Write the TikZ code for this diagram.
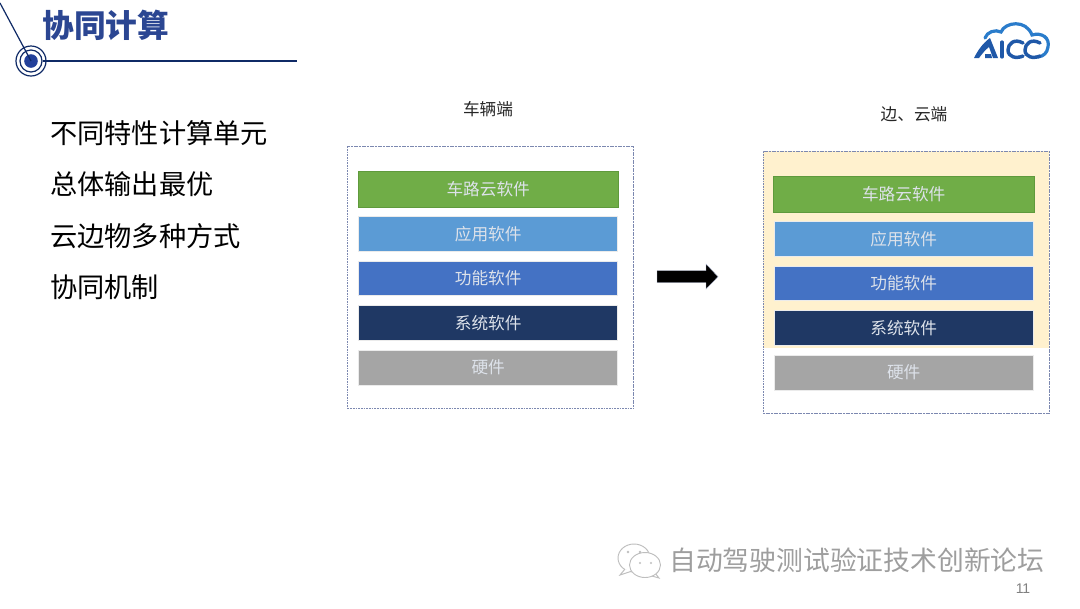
\documentclass[tikz,border=0pt]{standalone}
\usepackage{fontspec}
\setmainfont{Noto Sans CJK SC}[BoldFont={Noto Sans CJK SC Black}]
\setsansfont{Liberation Sans}
\definecolor{titleblue}{HTML}{2B4692}
\definecolor{navyline}{HTML}{0F2A66}
\definecolor{dotblue}{HTML}{23409A}
\definecolor{framecol}{HTML}{7C88B0}
\definecolor{cream}{HTML}{FFF1CE}
\definecolor{rowgreen}{HTML}{70AD47}
\definecolor{rowgreenedge}{HTML}{5F9A3C}
\definecolor{rowsky}{HTML}{5B9BD5}
\definecolor{rowblue}{HTML}{4472C4}
\definecolor{rownavy}{HTML}{1F3864}
\definecolor{rowgray}{HTML}{A5A5A5}
\definecolor{rowtext}{HTML}{DDE2EA}
\definecolor{logoa}{HTML}{2A7CCB}
\definecolor{logob}{HTML}{1F58A8}
\definecolor{markgray}{HTML}{BEBEBE}
\tikzset{
  x=0.75pt,y=-0.75pt,
  rowbox/.style={minimum width=194.4pt,minimum height=26pt,inner sep=0pt,
    text=rowtext,font=\fontsize{12.5pt}{14pt}\selectfont,draw=white!92!black,line width=0.5pt},
  greenrow/.style={rowbox,minimum width=195.5pt,minimum height=27pt,fill=rowgreen,draw=rowgreenedge},
  frame/.style={draw=framecol,line width=0.75pt,dash pattern=on 1.4pt off 0.6pt},
  caption/.style={font=\fontsize{12.5pt}{14pt}\selectfont,text=black!85},
  point/.style={font=\fontsize{20.4pt}{24pt}\selectfont,text=black,anchor=west,inner sep=0pt},
  bubble/.style={draw=markgray,line width=0.7pt,fill=white},
}
\begin{document}
\begin{tikzpicture}
\useasboundingbox (0,0) rectangle (1080,608);
\fill[white] (0,0) rectangle (1080,608);

% Title and its ornament
\node[font=\fontsize{23.8pt}{28pt}\selectfont\bfseries,text=titleblue,anchor=west,inner sep=0pt] (title) at (42,25) {协同计算};
\coordinate (hub) at (31,61);
\coordinate (ruleend) at (297,61);
\coordinate (stem) at (0,3);
\draw[navyline,line width=1pt] (hub) -- (ruleend);
\fill[white] (hub) circle (12);
\draw[navyline,line width=0.9pt] (hub) circle (15);
\draw[navyline,line width=0.9pt] (hub) circle (11);
\fill[dotblue] (hub) circle (6.8);
\draw[navyline,line width=0.9pt] (stem) -- (hub);

% Cloud emblem
\begin{scope}[line cap=round]
\draw[logoa,line width=2.4pt] (985,38) .. controls (987,32) and (995,29) .. (1001,32)
  .. controls (1005,22) and (1026,19) .. (1032,35)
  .. controls (1042,32) and (1050,38) .. (1048,47)
  .. controls (1047,53) and (1044,56) .. (1038,57);
\fill[logob] (974,58) .. controls (978,50) and (983,43) .. (990,38) -- (998,58) -- (993,58)
  -- (989,47) .. controls (985,50) and (982,54) .. (979,58) -- cycle;
\fill[logob] (985,54) -- (991,54) -- (992,58) -- (985,58) -- cycle;
\draw[logob,line width=2.4pt] (1002,42) -- (1002,57);
\draw[logob,line width=2.6pt] (1023,43) .. controls (1014,38) and (1008,44) .. (1008,50) .. controls (1008,57) and (1016,59) .. (1023,56);
\draw[logob,line width=2.6pt] (1040,43) .. controls (1031,38) and (1025,44) .. (1025,50) .. controls (1025,57) and (1033,59) .. (1040,56);
\end{scope}

% Key points
\node[point] (p1) at (50,133) {不同特性计算单元};
\node[point] (p2) at (50,184) {总体输出最优};
\node[point] (p3) at (50,236) {云边物多种方式};
\node[point] (p4) at (50,287) {协同机制};

% Vehicle-side stack
\node[caption] (capL) at (488,109) {车辆端};
\node[frame,minimum width=214.5pt,minimum height=197pt,inner sep=0pt] (frameL) at (490.5,277.5) {};
\node[greenrow] (l1) at (488.2,189) {车路云软件};
\node[rowbox,fill=rowsky] (l2) at (488.2,233.8) {应用软件};
\node[rowbox,fill=rowblue] (l3) at (488.2,278.3) {功能软件};
\node[rowbox,fill=rownavy] (l4) at (488.2,322.8) {系统软件};
\node[rowbox,fill=rowgray] (l5) at (488.2,367.5) {硬件};

% Transition arrow
\fill[black,draw=framecol!60,line width=0.3pt] (657,270.7) -- (706,270.7) -- (706,264) -- (718,276.7)
  -- (706,289) -- (706,282.7) -- (657,282.7) -- cycle;

% Edge and cloud stack
\node[caption] (capR) at (914,114) {边、云端};
\fill[cream] (763,151) rectangle (1049,348);
\node[frame,minimum width=214.5pt,minimum height=197pt,inner sep=0pt] (frameR) at (906,282.5) {};
\node[greenrow] (r1) at (903.7,194) {车路云软件};
\node[rowbox,fill=rowsky] (r2) at (903.7,238.8) {应用软件};
\node[rowbox,fill=rowblue] (r3) at (903.7,283.3) {功能软件};
\node[rowbox,fill=rownavy] (r4) at (903.7,327.8) {系统软件};
\node[rowbox,fill=rowgray] (r5) at (903.7,372.5) {硬件};

% Account mark and page number
\begin{scope}
\draw[bubble] (634,558) ellipse (16 and 14);
\draw[bubble] (625,569) -- (620,575) -- (632,571);
\draw[bubble] (655,573) -- (659,578) -- (650,575.5);
\draw[bubble] (645,565) ellipse (15.5 and 12.5);
\fill[markgray] (628,552) circle (1.3) (640,552) circle (1.3) (640,563) circle (1.2) (651,563) circle (1.2);
\end{scope}
\node[font=\fontsize{20.1pt}{24pt}\selectfont,text=white!62!black,anchor=west,inner sep=0pt] (mark) at (669,560) {自动驾驶测试验证技术创新论坛};
\node[font=\sffamily\fontsize{10.5pt}{12pt}\selectfont,text=black!50] (page) at (1023,589) {11};
\end{tikzpicture}
\end{document}
